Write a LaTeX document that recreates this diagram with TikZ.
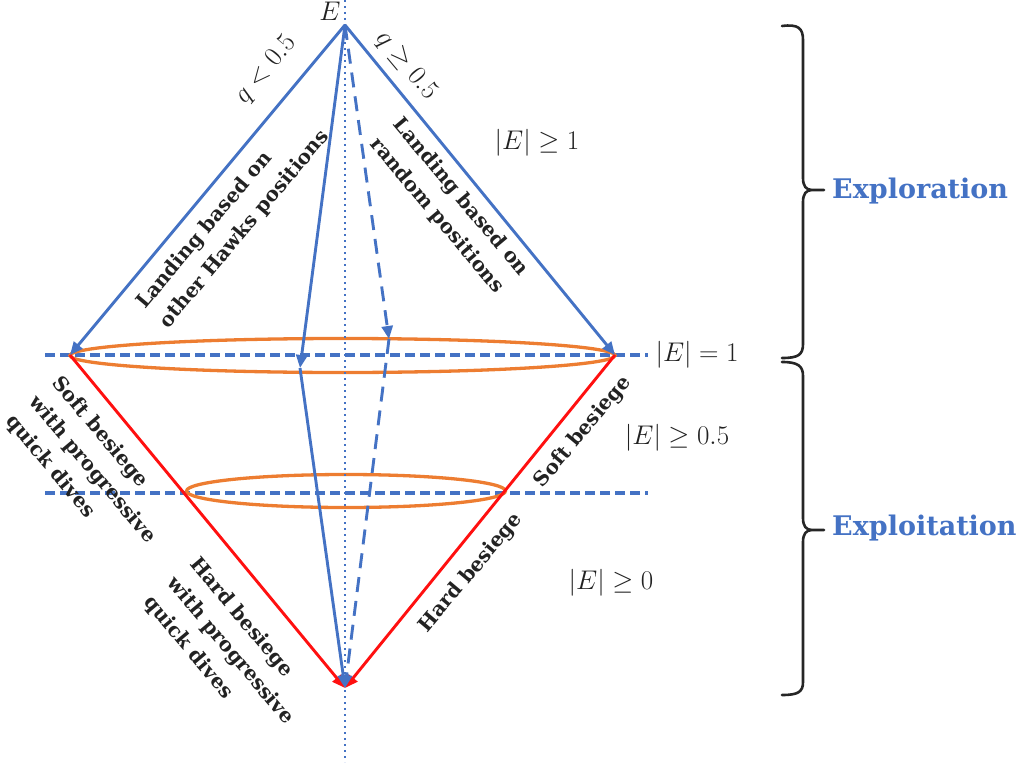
\RequirePackage{fix-cm}
\documentclass[tikz,border=0pt]{standalone}
\usepackage{fontspec}
\usetikzlibrary{arrows.meta}
\newfontfamily\lblfont{DejaVu Serif}
\definecolor{hhblue}{HTML}{4472C4}
\definecolor{hhred}{HTML}{FF1010}
\definecolor{hhorange}{HTML}{ED7D31}
\definecolor{hhtext}{HTML}{222222}
\tikzset{
  blueline/.style={draw=hhblue, line width=2.9pt},
  redline/.style={draw=hhred, line width=2.9pt},
  ovalline/.style={draw=hhorange, line width=3.3pt},
  hdash/.style={draw=hhblue, line width=3.2pt, dash pattern=on 10pt off 5pt},
  vdot/.style={draw=hhblue, line width=2.8pt, dash pattern=on 2.4pt off 3.6pt},
  bluetip/.style={-{Triangle[length=13pt,width=11pt,fill=hhblue]}},
  redtip/.style={-{Triangle[length=13pt,width=11pt,fill=hhred]}},
  bracepath/.style={draw=black!85, line width=2.6pt, line join=round, line cap=round},
  mlab/.style={inner sep=0pt, text=hhtext, font=\fontsize{27}{32}\selectfont},
  blab/.style={inner sep=0pt, text=hhtext, align=left, font=\lblfont\bfseries\fontsize{20}{30}\selectfont},
  phaselab/.style={inner sep=0pt, anchor=west, text=hhblue, font=\lblfont\bfseries\fontsize{27}{32}\selectfont}
}
\begin{document}
\begin{tikzpicture}[x=1pt,y=-1pt]
\useasboundingbox (0,0) rectangle (1024,762);
% key points
\coordinate (E) at (345,25);
\coordinate (L) at (70,355);
\coordinate (R) at (615,355);
\coordinate (B) at (345,688);
\coordinate (M1) at (300,368);
\coordinate (M2) at (389,339);
\coordinate (H1a) at (45,355);
\coordinate (H1b) at (648,355);
\coordinate (H2a) at (45,493);
\coordinate (H2b) at (648,493);
\coordinate (Vt) at (345,0);
\coordinate (Vb) at (345,762);
% horizontal dashed levels
\draw[hdash] (H1a) -- (H1b);
\draw[hdash] (H2a) -- (H2b);
% ellipses
\draw[ovalline] (342.5,355.5) ellipse [x radius=272.5, y radius=17];
\draw[ovalline] (346,491) ellipse [x radius=159.5, y radius=16.5];
% vertical dotted axis
\draw[vdot] (Vt) -- (Vb);
% red besiege lines
\draw[redline, redtip] (L) -- (B);
\draw[redline, redtip] (R) -- (B);
% blue exploration lines
\draw[blueline, bluetip] (E) -- (L);
\draw[blueline, bluetip] (E) -- (R);
\draw[blueline, bluetip] (E) -- (M1);
\draw[blueline, bluetip] (M1) -- (B);
\draw[blueline, dash pattern=on 15pt off 9pt, bluetip] (E) -- (M2);
\draw[blueline, dash pattern=on 15pt off 9pt, bluetip] (M2) -- (B);
% math labels
\node[mlab] (Etxt) at (330,11) {$E$};
\node[mlab, rotate=50] (q1) at (266,70) {$q<0.5$};
\node[mlab, rotate=-50] (q2) at (406,66) {$q\geq 0.5$};
\node[mlab] (e1) at (537,143) {$|E|\geq 1$};
\node[mlab] (e2) at (697,355) {$|E|=1$};
\node[mlab] (e3) at (677,438) {$|E|\geq 0.5$};
\node[mlab] (e4) at (611,583) {$|E|\geq 0$};
% bold labels
\node[blab, rotate=50] (t1) at (233,220) {Landing based on\\other Hawks positions};
\node[blab, rotate=-50] (t2) at (449,207) {Landing based on\\random positions};
\node[blab, rotate=-50] (t3) at (92,470) {Soft besiege\\with progressive\\quick dives};
\node[blab, rotate=-50] (t4) at (230,651) {Hard besiege\\with progressive\\quick dives};
\node[blab, rotate=50] (t5) at (583,432) {Soft besiege};
\node[blab, rotate=50] (t6) at (471,573) {Hard besiege};
% braces
\draw[bracepath] (782,26) .. controls (798,24) and (803,28) .. (803,40)
  -- (803,178) .. controls (803,186) and (806,190) .. (812,190) -- (824,190)
  (812,190) .. controls (806,190) and (803,194) .. (803,202)
  -- (803,344) .. controls (803,355) and (798,358) .. (782,358);
\draw[bracepath] (782,362) .. controls (798,362) and (803,366) .. (803,376)
  -- (803,518) .. controls (803,526) and (806,530) .. (812,530) -- (824,530)
  (812,530) .. controls (806,530) and (803,534) .. (803,542)
  -- (803,682) .. controls (803,692) and (798,695) .. (782,695);
\node[phaselab] (expl) at (832,191) {Exploration};
\node[phaselab] (expt) at (832,528) {Exploitation};
\end{tikzpicture}
\end{document}
